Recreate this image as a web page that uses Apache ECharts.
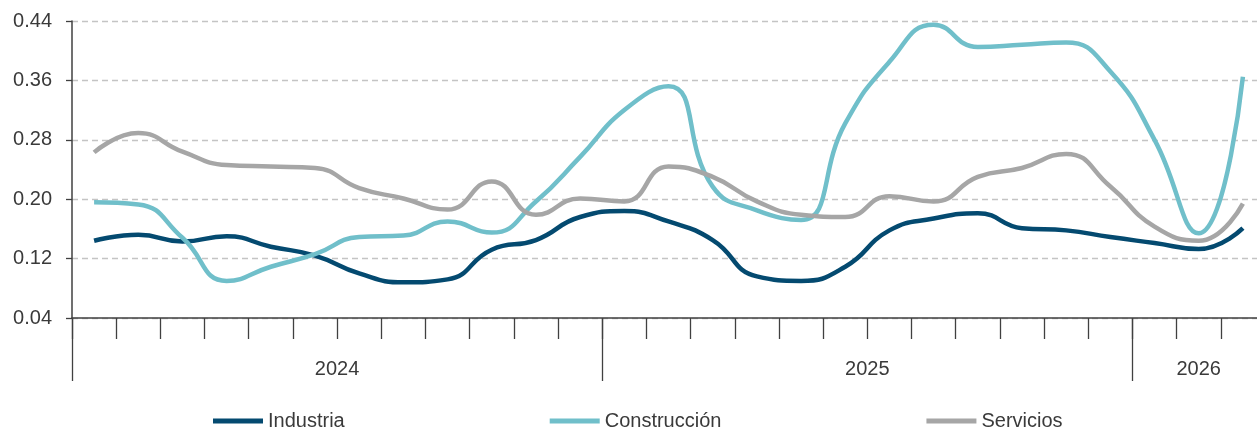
<!DOCTYPE html>
<html>
<head>
<meta charset="utf-8">
<script src="https://cdn.jsdelivr.net/npm/echarts@6/dist/echarts.min.js"></script>
<style>
  html, body { margin: 0; padding: 0; background: #fff; overflow: hidden; }
  #chart { width: 1265px; height: 429px; }
</style>
</head>
<body>
<div id="chart"></div>
<script>
// meses ene-24 .. mar-26
const months = [
    'ene-24', 'feb-24', 'mar-24', 'abr-24', 'may-24', 'jun-24', 'jul-24', 'ago-24', 'sep-24', 'oct-24', 'nov-24', 'dic-24',
    'ene-25', 'feb-25', 'mar-25', 'abr-25', 'may-25', 'jun-25', 'jul-25', 'ago-25', 'sep-25', 'oct-25', 'nov-25', 'dic-25',
    'ene-26', 'feb-26', 'mar-26'
];
const years = ['2024', '2025', '2026'];
const yearStarts = [0, 12, 24];
const yearMids = [6, 18, 25.5];

const industria = [
    0.144, 0.152, 0.143, 0.150, 0.136, 0.124, 0.100, 0.088, 0.092, 0.132, 0.145, 0.176,
    0.184, 0.170, 0.145, 0.096, 0.090, 0.109, 0.158, 0.174, 0.181, 0.161, 0.158, 0.149,
    0.141, 0.133, 0.161
];
const construccion = [
    0.196, 0.193, 0.148, 0.090, 0.109, 0.126, 0.149, 0.151, 0.170, 0.155, 0.197, 0.257,
    0.320, 0.352, 0.217, 0.185, 0.172, 0.302, 0.385, 0.435, 0.405, 0.408, 0.411, 0.372,
    0.280, 0.154, 0.365
];
const servicios = [
    0.263, 0.289, 0.264, 0.246, 0.244, 0.242, 0.215, 0.201, 0.186, 0.224, 0.179, 0.201,
    0.197, 0.244, 0.230, 0.197, 0.179, 0.176, 0.204, 0.197, 0.230, 0.242, 0.261, 0.217,
    0.163, 0.144, 0.194
];

const font = 'Liberation Sans, Arial, sans-serif';
const textColor = '#3a3a3a';
const axisColor = '#404040';

const chart = echarts.init(document.getElementById('chart'));

function lineSeries(name, data, color) {
    return {
        name: name,
        type: 'line',
        data: data,
        smooth: 0.5,
        symbol: 'none',
        lineStyle: { color: color, width: 4.5 },
        itemStyle: { color: color },
        z: 3
    };
}

const option = {
    animation: false,
    backgroundColor: '#fff',
    textStyle: { fontFamily: font },
    // el último mes queda un poco fuera de la ventana, como en el original
    grid: { left: 72, top: 21, right: 0, height: 297, containLabel: false },
    legend: {
        left: 208,
        top: 406,
        itemGap: 205,
        itemWidth: 50,
        itemHeight: 5,
        icon: 'rect',
        textStyle: { fontFamily: font, fontSize: 20, color: textColor },
        data: ['Industria', 'Construcción', 'Servicios']
    },
    xAxis: [{
        type: 'category',
        data: months,
        boundaryGap: true,
        axisLine: { lineStyle: { color: axisColor, width: 1.5 } },
        axisTick: { show: true, interval: 0, length: 21, lineStyle: { color: axisColor, width: 1.3 } },
        axisLabel: { show: false },
        splitLine: { show: false }
    }, {
        type: 'value',
        position: 'bottom',
        min: 0,
        max: months.length,
        axisLine: { show: false },
        axisTick: {
            show: true,
            customValues: yearStarts,
            length: 63,
            lineStyle: { color: axisColor, width: 1.3 }
        },
        axisLabel: {
            customValues: yearMids,
            margin: 41,
            fontSize: 20,
            color: textColor,
            fontFamily: font,
            formatter: function (v) {
                return years[yearMids.indexOf(v)] || '';
            }
        },
        splitLine: { show: false }
    }],
    yAxis: {
        type: 'value',
        min: 0.04,
        max: 0.44,
        interval: 0.08,
        axisLine: { show: true, lineStyle: { color: axisColor, width: 1.5 } },
        axisTick: { show: true, length: 6, lineStyle: { color: axisColor, width: 1.3 } },
        axisLabel: {
            margin: 20,
            fontSize: 20,
            color: textColor,
            fontFamily: font,
            formatter: function (v) { return v.toFixed(2); }
        },
        splitLine: { show: true, lineStyle: { color: '#c4c4c4', width: 1.3, type: [6, 4] } }
    },
    series: [
        lineSeries('Industria', industria, '#044a70'),
        lineSeries('Construcción', construccion, '#70bfca'),
        lineSeries('Servicios', servicios, '#a6a6a6')
    ]
};

chart.setOption(option);
</script>
</body>
</html>
